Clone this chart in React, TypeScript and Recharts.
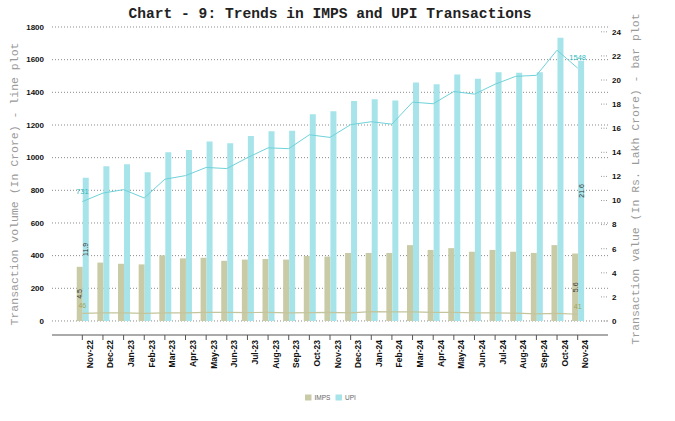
import React from 'react';
import { ComposedChart, Bar, Line, XAxis, YAxis, CartesianGrid, LabelList } from 'recharts';

const months = ['Nov-22','Dec-22','Jan-23','Feb-23','Mar-23','Apr-23','May-23','Jun-23','Jul-23','Aug-23','Sep-23','Oct-23','Nov-23','Dec-23','Jan-24','Feb-24','Mar-24','Apr-24','May-24','Jun-24','Jul-24','Aug-24','Sep-24','Oct-24','Nov-24'];
const impsValue = [4.5, 4.85, 4.75, 4.7, 5.45, 5.2, 5.25, 5.0, 5.1, 5.15, 5.1, 5.4, 5.35, 5.65, 5.65, 5.65, 6.3, 5.9, 6.05, 5.75, 5.9, 5.75, 5.65, 6.3, 5.6];
const upiValue = [11.9, 12.85, 13.0, 12.35, 14.0, 14.2, 14.9, 14.75, 15.35, 15.75, 15.8, 17.15, 17.4, 18.25, 18.4, 18.3, 19.8, 19.65, 20.45, 20.1, 20.65, 20.6, 20.65, 23.5, 21.6];
const upiVolume = [731, 783, 804, 753, 868, 890, 940, 933, 1000, 1060, 1055, 1140, 1124, 1202, 1220, 1205, 1340, 1330, 1405, 1389, 1450, 1498, 1504, 1658, 1548];
const impsVolume = [46, 50, 50, 47, 50, 49, 52, 52, 51, 53, 49, 51, 52, 50, 57, 55, 55, 53, 52, 50, 49, 48, 43, 47, 41];
const leftTicks = [0, 200, 400, 600, 800, 1000, 1200, 1400, 1600, 1800];
const rightTicks = [0, 2, 4, 6, 8, 10, 12, 14, 16, 18, 20, 22, 24];

const data = months.map((m, i) => ({
  month: m,
  impsValue: impsValue[i],
  upiValue: upiValue[i],
  upiVolume: upiVolume[i],
  impsVolume: impsVolume[i],
}));

const LAST = months.length - 1;
const SANS = 'Liberation Sans, Arial, sans-serif';
const MONO = 'Liberation Mono, Courier New, monospace';

const IMPS_BAR = '#c9cba6';
const UPI_BAR = '#a6e4ea';
const UPI_LINE = '#6fd2d9';
const IMPS_LINE = '#c4c59c';

const XTick = (props: any) => {
  const { x, y, payload } = props;
  const px = x + 10.5;
  return (
    <text x={px} y={y} transform={`rotate(-90, ${px}, ${y})`} textAnchor="end" fontSize={8.5} fontWeight="bold" fontFamily={SANS} fill="#111">
      {payload.value}
    </text>
  );
};

const LTick = (props: any) => {
  const { x, y, payload } = props;
  return (
    <text x={x} y={y} dy="0.35em" textAnchor="end" fontSize={8} fontWeight="bold" fontFamily={SANS} fill="#111">
      {payload.value}
    </text>
  );
};

const RTick = (props: any) => {
  const { x, y, payload } = props;
  return (
    <g>
      <line x1={x - 11} x2={x - 5} y1={y} y2={y} stroke="#999" strokeDasharray="1 1.5" />
      <text x={x} y={y} dy="0.35em" textAnchor="start" fontSize={8} fontWeight="bold" fontFamily={SANS} fill="#111">
        {payload.value}
      </text>
    </g>
  );
};

const barLabel = (props: any) => {
  const { x, y, width, height, value, index } = props;
  if (index !== 0 && index !== LAST) return null;
  const cx = Number(x) + Number(width) / 2;
  const cy = Number(y) + Number(height) / 2;
  return (
    <text x={cx} y={cy} transform={`rotate(-90, ${cx}, ${cy})`} textAnchor="middle" dominantBaseline="central" fontSize={7} fontFamily={SANS} fill="#333">
      {Number(value).toFixed(1)}
    </text>
  );
};

const upiLineLabel = (props: any) => {
  const { x, y, value, index } = props;
  if (index !== 0 && index !== LAST) return null;
  return (
    <text x={Number(x)} y={Number(y) - 8} textAnchor="middle" fontSize={7.5} fontFamily={SANS} fill="#2fb8bd">
      {value}
    </text>
  );
};

const impsLineLabel = (props: any) => {
  const { x, y, value, index } = props;
  if (index !== 0 && index !== LAST) return null;
  return (
    <text x={Number(x)} y={Number(y) - 5} textAnchor="middle" fontSize={7} fontFamily={SANS} fill="#a3a35a">
      {value}
    </text>
  );
};

export default function App() {
  return (
    <div style={{ position: 'fixed', left: 0, top: 0, width: 675, height: 421, background: '#fff' }}>
      <ComposedChart
        width={675}
        height={421}
        data={data}
        margin={{ top: 27, right: 0, bottom: 0, left: 0 }}
        barCategoryGap="23%"
        barGap={0}
      >
        <CartesianGrid yAxisId="left" horizontal vertical={false} stroke="#8a8a8a" strokeDasharray="1 2" horizontalValues={leftTicks} />
        <XAxis
          dataKey="month"
          interval={0}
          padding={{ left: 20, right: 20 }}
          height={86}
          tick={<XTick />}
          tickSize={5}
          tickMargin={0}
          tickLine={{ stroke: '#555' }}
          axisLine={{ stroke: '#aaaaaa', strokeWidth: 2 }}
        />
        <YAxis
          yAxisId="left"
          orientation="left"
          width={52}
          domain={[-86, 1800]}
          ticks={leftTicks}
          allowDataOverflow
          axisLine={false}
          tickLine={false}
          tickSize={6}
          tickMargin={2}
          tick={<LTick />}
        />
        <YAxis
          yAxisId="right"
          orientation="right"
          width={67}
          domain={[-1.16, 24.4]}
          ticks={rightTicks}
          allowDataOverflow
          axisLine={false}
          tickLine={false}
          tickSize={2}
          tickMargin={2}
          tick={<RTick />}
        />
        <Bar yAxisId="right" dataKey="impsValue" name="IMPS" fill={IMPS_BAR} isAnimationActive={false}>
          <LabelList dataKey="impsValue" content={barLabel} />
        </Bar>
        <Bar yAxisId="right" dataKey="upiValue" name="UPI" fill={UPI_BAR} isAnimationActive={false}>
          <LabelList dataKey="upiValue" content={barLabel} />
        </Bar>
        <Line yAxisId="left" type="linear" dataKey="upiVolume" stroke={UPI_LINE} strokeWidth={1} dot={false} isAnimationActive={false}>
          <LabelList dataKey="upiVolume" content={upiLineLabel} />
        </Line>
        <Line yAxisId="left" type="linear" dataKey="impsVolume" stroke={IMPS_LINE} strokeWidth={1.2} dot={false} isAnimationActive={false}>
          <LabelList dataKey="impsVolume" content={impsLineLabel} />
        </Line>
      </ComposedChart>
      <svg width={675} height={421} style={{ position: 'absolute', left: 0, top: 0, pointerEvents: 'none' }}>
        <text x={330} y={18} textAnchor="middle" fontSize={14.6} fontWeight="bold" fontFamily={MONO} fill="#222">
          Chart - 9: Trends in IMPS and UPI Transactions
        </text>
        <text x={18} y={184} transform="rotate(-90, 18, 184)" textAnchor="middle" fontSize={11.5} fontFamily={MONO} fill="#9a9a9a">
          Transaction volume (In Crore) - line plot
        </text>
        <text x={639} y={179} transform="rotate(-90, 639, 179)" textAnchor="middle" fontSize={11.5} fontFamily={MONO} fill="#9a9a9a">
          Transaction value (In Rs. Lakh Crore) - bar plot
        </text>
        <rect x={305} y={394.5} width={6.5} height={6} fill={IMPS_BAR} />
        <text x={314.5} y={400} fontSize={6.5} fontFamily={SANS} fill="#666">IMPS</text>
        <rect x={335.5} y={394.5} width={6.5} height={6} fill={UPI_BAR} />
        <text x={345} y={400} fontSize={6.5} fontFamily={SANS} fill="#666">UPI</text>
      </svg>
    </div>
  );
}
